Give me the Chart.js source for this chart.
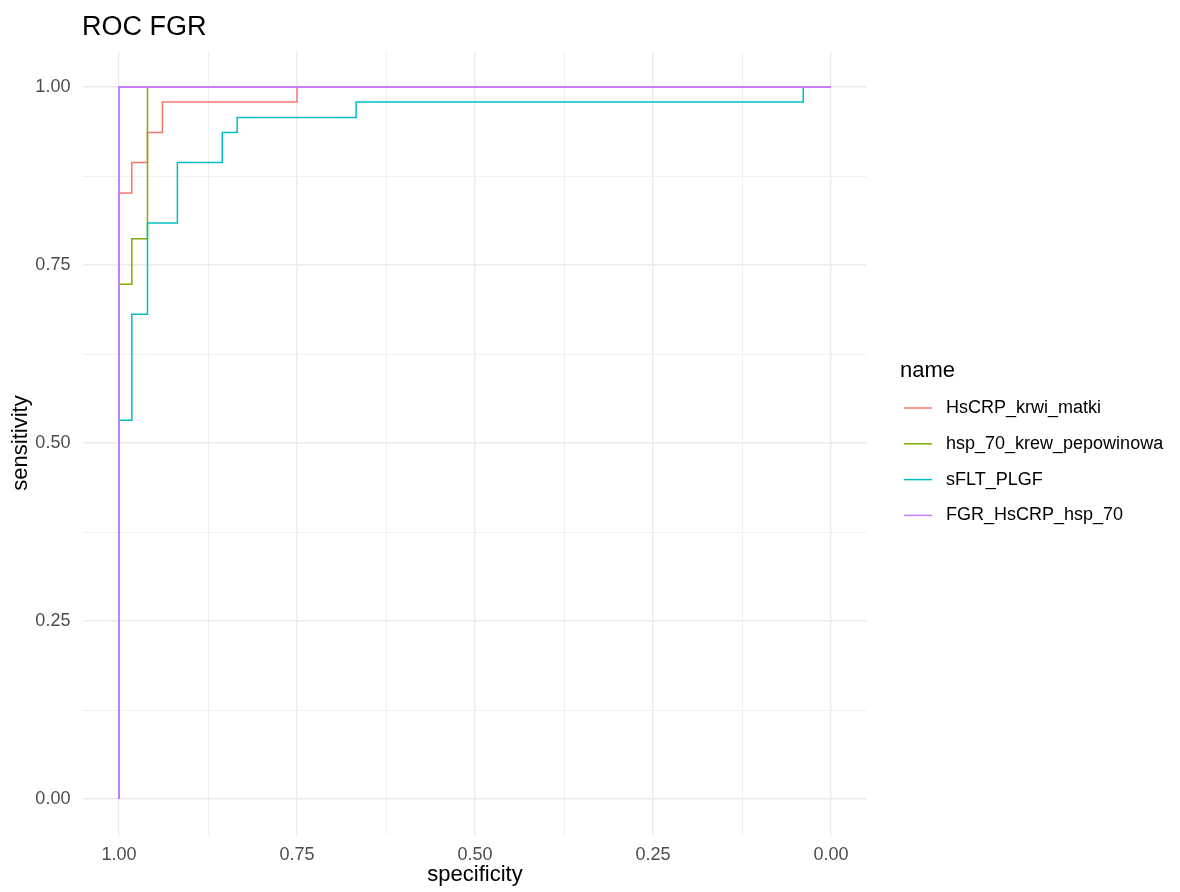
<!DOCTYPE html>
<html>
<head>
<meta charset="utf-8">
<title>ROC FGR</title>
<script src="https://cdn.jsdelivr.net/npm/chart.js@4.4.1/dist/chart.umd.min.js"></script>
<style>
  html, body { margin: 0; padding: 0; background: #ffffff; }
  #wrap { position: relative; width: 1180px; height: 892px; }
</style>
</head>
<body>
<div id="wrap"><canvas id="roc" width="1180" height="892"></canvas></div>
<script>
// ROC curves (specificity, sensitivity) for each marker
const seriesNames = ['HsCRP_krwi_matki', 'hsp_70_krew_pepowinowa', 'sFLT_PLGF', 'FGR_HsCRP_hsp_70'];
const seriesColors = ['#F8766D', '#7CAE00', '#00BFC4', '#C77CFF'];

const hscrpSpec = [1, 1, 0.982, 0.982, 0.960, 0.960, 0.939, 0.939, 0.750, 0.750, 0];
const hscrpSens = [0, 0.851, 0.851, 0.894, 0.894, 0.936, 0.936, 0.979, 0.979, 1, 1];

const hsp70Spec = [1, 1, 0.982, 0.982, 0.960, 0.960, 0];
const hsp70Sens = [0, 0.723, 0.723, 0.787, 0.787, 1, 1];

const sfltSpec = [1, 1, 0.982, 0.982, 0.960, 0.960, 0.918, 0.918, 0.855, 0.855, 0.834, 0.834, 0.667, 0.667, 0.039, 0.039, 0];
const sfltSens = [0, 0.532, 0.532, 0.681, 0.681, 0.809, 0.809, 0.894, 0.894, 0.936, 0.936, 0.957, 0.957, 0.979, 0.979, 1, 1];

const comboSpec = [1, 1, 0];
const comboSens = [0, 1, 1];

// axis ticks
const majorTicks = [0, 0.25, 0.5, 0.75, 1];
const majorLabels = ['0.00', '0.25', '0.50', '0.75', '1.00'];
const minorTicks = [0.125, 0.375, 0.625, 0.875];

const FONT = "'Liberation Sans', Arial, Helvetica, sans-serif";
Chart.defaults.font.family = FONT;

const specs = [hscrpSpec, hsp70Spec, sfltSpec, comboSpec];
const senss = [hscrpSens, hsp70Sens, sfltSens, comboSens];
const lineWidths = [1.5, 1.5, 1.5, 1.9];

const datasets = seriesNames.map((name, i) => ({
  label: name,
  data: specs[i].map((s, k) => ({ x: s, y: senss[i][k] })),
  borderColor: seriesColors[i],
  backgroundColor: seriesColors[i],
  borderWidth: lineWidths[i],
  pointRadius: 0,
  tension: 0,
  fill: false,
  order: seriesNames.length - 1 - i
}));

const allTicks = majorTicks.concat(minorTicks).sort((a, b) => a - b);
const isMajor = v => majorTicks.some(m => Math.abs(m - v) < 1e-9);
const labelFor = v => {
  const idx = majorTicks.findIndex(m => Math.abs(m - v) < 1e-9);
  return idx >= 0 ? majorLabels[idx] : '';
};

const gridStyle = {
  drawTicks: false,
  color: ctx => isMajor(ctx.tick.value) ? '#EBEBEB' : '#F0F0F0',
  lineWidth: ctx => isMajor(ctx.tick.value) ? 1.4 : 1
};

// titles and legend drawn around the panel
const decorations = {
  id: 'decorations',
  afterDraw(chart) {
    const c = chart.ctx;
    c.save();
    c.fillStyle = '#000000';
    c.textAlign = 'left';
    c.textBaseline = 'alphabetic';
    c.font = '27px ' + FONT;
    c.fillText('ROC FGR', 82, 35);

    c.font = '22px ' + FONT;
    c.fillText('name', 900, 377);

    c.font = '18px ' + FONT;
    c.textBaseline = 'middle';
    seriesNames.forEach((name, i) => {
      const y = 408 + i * 35.8;
      c.strokeStyle = seriesColors[i];
      c.lineWidth = 1.5;
      c.beginPath();
      c.moveTo(904, y);
      c.lineTo(932, y);
      c.stroke();
      c.fillStyle = '#000000';
      c.fillText(name, 946, y);
    });
    c.restore();
  }
};

new Chart(document.getElementById('roc'), {
  type: 'line',
  data: { datasets },
  options: {
    responsive: false,
    animation: false,
    events: [],
    layout: { padding: { left: 0, right: 313.4, top: 51.4, bottom: 0 } },
    plugins: {
      legend: { display: false },
      title: { display: false },
      tooltip: { enabled: false }
    },
    scales: {
      x: {
        type: 'linear',
        reverse: true,
        min: -0.05,
        max: 1.05,
        afterBuildTicks: s => { s.ticks = allTicks.map(v => ({ value: v })); },
        afterFit: s => { s.height = 57.4; },
        border: { display: false },
        grid: gridStyle,
        ticks: {
          autoSkip: false,
          maxRotation: 0,
          padding: 10,
          color: '#4D4D4D',
          font: { size: 18 },
          callback: v => labelFor(v)
        },
        title: {
          display: true,
          text: 'specificity',
          color: '#000000',
          font: { size: 22 },
          padding: { top: 0, bottom: 4 }
        }
      },
      y: {
        type: 'linear',
        min: -0.05,
        max: 1.05,
        afterBuildTicks: s => { s.ticks = allTicks.map(v => ({ value: v })); },
        afterFit: s => { s.width = 83.4; },
        border: { display: false },
        grid: gridStyle,
        ticks: {
          autoSkip: false,
          padding: 13,
          color: '#4D4D4D',
          font: { size: 18 },
          callback: v => labelFor(v)
        },
        title: {
          display: true,
          text: 'sensitivity',
          color: '#000000',
          font: { size: 22 },
          padding: { top: 8, bottom: 0 }
        }
      }
    }
  },
  plugins: [decorations]
});
</script>
</body>
</html>
